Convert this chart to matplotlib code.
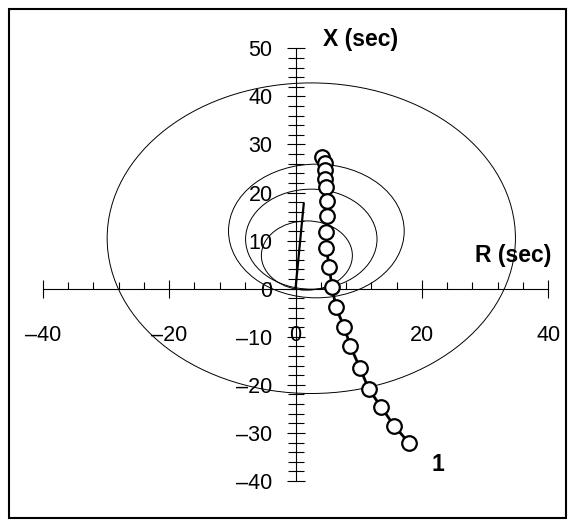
import matplotlib
matplotlib.use("Agg")
import matplotlib.pyplot as plt
from matplotlib.patches import Circle, Rectangle
from matplotlib.ticker import FixedLocator, MultipleLocator

plt.rcParams["font.family"] = ["Liberation Sans", "DejaVu Sans"]

# Relay characteristic circles in the R-X plane (centre R, centre X, radius)
zone_r = [2.5, 3.3, 2.5, 1.8]
zone_x = [10.5, 12.0, 10.3, 6.9]
zone_radius = [32.3, 13.9, 10.4, 7.2]

# Line impedance angle line from the origin
line_r = [0.0, 1.3]
line_x = [0.0, 17.6]

# Apparent impedance trajectory, curve 1
traj_r = [4.2, 4.6, 4.6, 4.6, 4.9, 5.0, 5.0, 4.9, 4.9, 5.3, 5.8,
          6.4, 7.7, 8.7, 10.2, 11.6, 13.6, 15.6, 17.9]
traj_x = [27.3, 26.1, 24.7, 22.9, 21.1, 18.2, 15.2, 11.85, 8.45, 4.6, 0.3,
          -3.9, -8.0, -12.0, -16.5, -20.9, -24.7, -28.5, -32.0]

x_ticks = [-40, -20, 0, 20, 40]
x_tick_labels = ["\u201340", "\u201320", "0", "20", "40"]
y_ticks = [-40, -30, -20, -10, 0, 10, 20, 30, 40, 50]
y_tick_labels = ["\u201340", "\u201330", "\u201320", "\u201310", "0",
                 "10", "20", "30", "40", "50"]

W, H = 575, 527
fig = plt.figure(figsize=(W / 100, H / 100), dpi=100)
ax = fig.add_axes([42.7 / W, 1 - 481 / H, (548.3 - 42.7) / W, (481 - 48.3) / H])
ax.set_xlim(-40, 40)
ax.set_ylim(-40, 50)
ax.patch.set_visible(False)

for side in ("top", "right"):
    ax.spines[side].set_visible(False)
ax.spines["left"].set_position("zero")
ax.spines["bottom"].set_position("zero")
for side in ("left", "bottom"):
    ax.spines[side].set_linewidth(0.8)
    ax.spines[side].set_color("black")

ax.xaxis.set_major_locator(FixedLocator(x_ticks))
ax.set_xticklabels(x_tick_labels)
ax.xaxis.set_minor_locator(MultipleLocator(4))
ax.yaxis.set_major_locator(FixedLocator(y_ticks))
ax.set_yticklabels(y_tick_labels)
ax.yaxis.set_minor_locator(MultipleLocator(2))

ax.tick_params(axis="x", which="major", direction="inout", length=13,
               width=0.8, pad=20, labelsize=15.5)
ax.tick_params(axis="x", which="minor", direction="in", length=5, width=0.8)
ax.tick_params(axis="y", which="major", direction="inout", length=13,
               width=0.8, pad=10, labelsize=15.5)
ax.tick_params(axis="y", which="minor", direction="inout", length=11,
               width=0.8)

for cr, cx, rad in zip(zone_r, zone_x, zone_radius):
    ax.add_patch(Circle((cr, cx), rad, fill=False, edgecolor="black",
                        linewidth=0.7, clip_on=False))

ax.plot(line_r, line_x, color="black", linewidth=1.6, clip_on=False)
ax.plot(traj_r, traj_x, color="black", linewidth=2.0, marker="o",
        markersize=10.5, markerfacecolor="white", markeredgecolor="black",
        markeredgewidth=1.6, clip_on=False, zorder=5)

ax.text(4.3, 51.8, "X (sec)", fontsize=16.5, fontweight="bold",
        ha="left", va="center", clip_on=False)
ax.text(28.4, 6.8, "R (sec)", fontsize=16.5, fontweight="bold",
        ha="left", va="center", clip_on=False)
ax.text(22.6, -36.5, "1", fontsize=16.5, fontweight="bold",
        ha="center", va="center", clip_on=False)

# Outer frame of the figure
fig.patches.append(Rectangle((9 / W, 1 - 518 / H), (566 - 9) / W, (518 - 9.3) / H,
                             transform=fig.transFigure, fill=False,
                             edgecolor="black", linewidth=1.5))

fig.savefig("out.png", dpi=100)
